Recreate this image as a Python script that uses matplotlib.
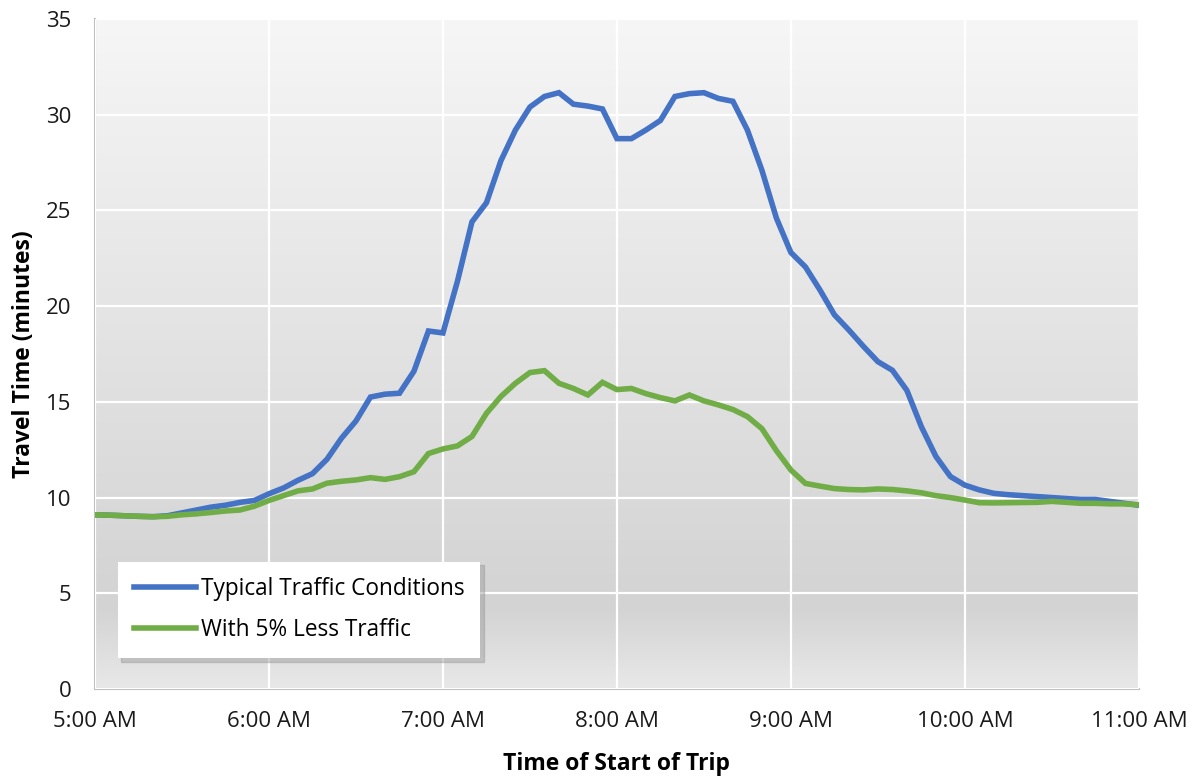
import numpy as np
import matplotlib
matplotlib.use('Agg')
import matplotlib.pyplot as plt
from matplotlib.colors import LinearSegmentedColormap

plt.rcParams['font.family'] = ['Open Sans', 'DejaVu Sans']

# 5-minute steps from 5:00 AM to 11:00 AM
start_hour = 5
step_min = 5
typical = [9.1, 9.08, 9.05, 9.02, 9.0, 9.05, 9.2, 9.35, 9.5, 9.6, 9.75, 9.85,
           10.2, 10.5, 10.9, 11.25, 12.0, 13.1, 14.0, 15.25, 15.4, 15.45, 16.6, 18.7,
           18.6, 21.3, 24.4, 25.4, 27.6, 29.2, 30.4, 30.95, 31.15, 30.55, 30.45, 30.3,
           28.75, 28.75, 29.2, 29.7, 30.95, 31.1, 31.15, 30.85, 30.7, 29.2, 27.1, 24.6,
           22.8, 22.05, 20.85, 19.55, 18.75, 17.9, 17.1, 16.65, 15.6, 13.7, 12.15, 11.1,
           10.65, 10.4, 10.22, 10.15, 10.1, 10.05, 10.0, 9.95, 9.9, 9.9, 9.8, 9.7, 9.6]
less_traffic = [9.1, 9.08, 9.05, 9.02, 9.0, 9.02, 9.1, 9.15, 9.22, 9.3, 9.35, 9.55,
                9.85, 10.1, 10.35, 10.45, 10.75, 10.85, 10.92, 11.04, 10.95, 11.09, 11.35, 12.3,
                12.54, 12.7, 13.19, 14.4, 15.28, 15.97, 16.53, 16.63, 15.97, 15.7, 15.36, 16.02,
                15.64, 15.7, 15.43, 15.22, 15.05, 15.36, 15.05, 14.84, 14.6, 14.23, 13.6, 12.45,
                11.44, 10.74, 10.6, 10.47, 10.42, 10.4, 10.45, 10.42, 10.35, 10.25, 10.1, 10.0,
                9.87, 9.73, 9.72, 9.73, 9.74, 9.75, 9.8, 9.75, 9.7, 9.7, 9.67, 9.67, 9.62]
hour_ticks = [5, 6, 7, 8, 9, 10, 11]
hour_labels = ['5:00 AM', '6:00 AM', '7:00 AM', '8:00 AM', '9:00 AM', '10:00 AM', '11:00 AM']

x = start_hour + np.arange(len(typical)) * step_min / 60.0

fig = plt.figure(figsize=(11.95, 7.78), dpi=100)
ax = fig.add_axes([0.0795, 0.1144, 0.8735, 0.8612])

# gradient plot background
cmap = LinearSegmentedColormap.from_list(
    'bg', [(0.0, '#e8e8e8'), (0.12, '#d3d3d3'), (1.0, '#f6f6f6')])
grad = np.linspace(0, 1, 256).reshape(-1, 1)
ax.imshow(grad, cmap=cmap, aspect='auto', origin='lower',
          extent=[5, 11, 0, 35], zorder=0)

ax.plot(x, typical, color='#4472C4', lw=4.0, label='Typical Traffic Conditions',
        zorder=3, solid_joinstyle='miter')
ax.plot(x, less_traffic, color='#70AD47', lw=4.0, label='With 5% Less Traffic',
        zorder=3, solid_joinstyle='miter')

ax.set_xlim(5, 11)
ax.set_ylim(0, 35)
ax.set_xticks(hour_ticks)
ax.set_xticklabels(hour_labels)
ax.set_yticks(range(0, 36, 5))
ax.tick_params(length=0, labelsize=16, colors='#1a1a1a')
ax.tick_params(axis='x', pad=16)
ax.tick_params(axis='y', pad=17)
ax.grid(True, color='white', lw=1.6, zorder=1)
ax.set_axisbelow(False)
for s in ['top', 'right']:
    ax.spines[s].set_visible(False)
for s in ['left', 'bottom']:
    ax.spines[s].set_color('#bfbfbf')
    ax.spines[s].set_linewidth(1.5)
    ax.spines[s].set_zorder(2)

ax.set_xlabel('Time of Start of Trip', fontsize=16.5, fontweight='bold', labelpad=14)
ax.set_ylabel('Travel Time (minutes)', fontsize=16.5, fontweight='bold', labelpad=7)

leg = ax.legend(loc='lower left', bbox_to_anchor=(0.022, 0.046), fontsize=16.3,
                fancybox=False, shadow={'color': '#999999', 'alpha': 0.45, 'ox': 2.5, 'oy': -2.5},
                handlelength=2.75, handletextpad=0.2, borderpad=0.7,
                labelspacing=0.75, borderaxespad=0)
leg.get_frame().set_edgecolor('none')
leg.get_frame().set_facecolor('white')
leg.get_frame().set_alpha(1)
leg.set_zorder(5)

fig.savefig('out.png', dpi=100)
